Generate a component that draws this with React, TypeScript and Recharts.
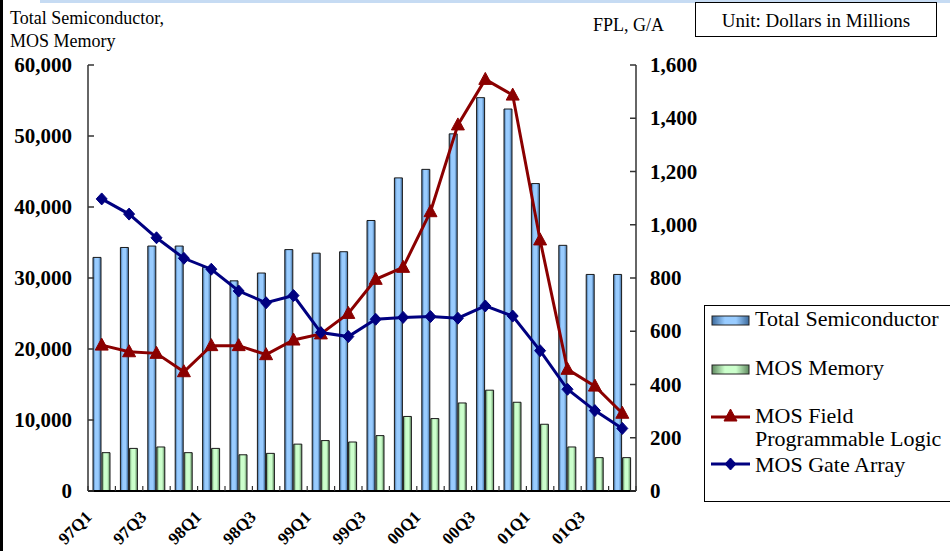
import React from 'react';
import { ComposedChart, Bar, Line, XAxis, YAxis, Legend } from 'recharts';

const quarters = ['97Q1','97Q2','97Q3','97Q4','98Q1','98Q2','98Q3','98Q4','99Q1','99Q2','99Q3','99Q4','00Q1','00Q2','00Q3','00Q4','01Q1','01Q2','01Q3','01Q4'];
const totalSemiconductor = [32900,34300,34500,34500,31500,29600,30700,34000,33500,33700,38100,44100,45300,50300,55400,53800,43300,34600,30500,30500];
const mosMemory = [5400,6000,6200,5400,6000,5100,5300,6600,7100,6900,7800,10500,10200,12400,14200,12500,9400,6200,4700,4700];
const mosFPL = [548,523,517,448,546,546,512,567,590,667,795,840,1049,1375,1546,1487,943,457,394,292];
const mosGateArray = [1097,1040,951,874,833,751,707,734,595,580,645,652,655,649,695,657,527,382,302,235];
const leftTicks = [0,10000,20000,30000,40000,50000,60000];
const rightTicks = [0,200,400,600,800,1000,1200,1400,1600];

const data = quarters.map((q, i) => ({
  q,
  total: totalSemiconductor[i],
  memory: mosMemory[i],
  fpl: mosFPL[i],
  ga: mosGateArray[i],
}));

const SERIF = "'Liberation Serif', 'Times New Roman', serif";
const BW = 27.4;

const fmt = (v: number) => v.toLocaleString('en-US');

const LeftTick = (props: any) => {
  const { x, y, payload } = props;
  return (
    <g>
      <line x1={x} x2={x + 6} y1={y} y2={y} stroke="#333" strokeWidth={1.5} />
      <text x={x - 16} y={y + 7} textAnchor="end" fontFamily={SERIF} fontWeight="bold" fontSize={21} fill="#000">
        {fmt(payload.value)}
      </text>
    </g>
  );
};

const RightTick = (props: any) => {
  const { x, y, payload } = props;
  return (
    <g>
      <line x1={x} x2={x - 6} y1={y} y2={y} stroke="#333" strokeWidth={1.5} />
      <text x={x + 14} y={y + 7} textAnchor="start" fontFamily={SERIF} fontWeight="bold" fontSize={21} fill="#000">
        {fmt(payload.value)}
      </text>
    </g>
  );
};

const XTick = (props: any) => {
  const { x, y, payload } = props;
  const idx = typeof props.index === 'number' ? props.index : quarters.indexOf(payload.value);
  const tx = x - 9;
  const ty = y + 27;
  return (
    <g>
      <line x1={x - BW / 2} x2={x - BW / 2} y1={y} y2={y - 5} stroke="#333" strokeWidth={1.2} />
      {idx === quarters.length - 1 && (
        <line x1={x + BW / 2} x2={x + BW / 2} y1={y} y2={y - 5} stroke="#333" strokeWidth={1.2} />
      )}
      {idx % 2 === 0 && (
        <text x={tx} y={ty} transform={`rotate(-45, ${tx}, ${ty})`} textAnchor="end" fontFamily={SERIF} fontWeight="bold" fontSize={17} fill="#000">
          {payload.value}
        </text>
      )}
    </g>
  );
};

const Triangle = (props: any) => {
  const { cx, cy } = props;
  if (cx == null || cy == null) return null;
  return <path d={`M${cx},${cy - 7} L${cx + 6.5},${cy + 5} L${cx - 6.5},${cy + 5} Z`} fill="#8B0000" stroke="#8B0000" />;
};

const Diamond = (props: any) => {
  const { cx, cy } = props;
  if (cx == null || cy == null) return null;
  return <path d={`M${cx},${cy - 6} L${cx + 5.5},${cy} L${cx},${cy + 6} L${cx - 5.5},${cy} Z`} fill="#000080" stroke="#000080" />;
};

const renderLegend = () => (
  <svg width={250} height={197} style={{ display: 'block' }}>
    <defs>
      <linearGradient id="lgBlue" x1="0" y1="0" x2="1" y2="0">
        <stop offset="0%" stopColor="#3c6a9c" />
        <stop offset="35%" stopColor="#99ccff" />
        <stop offset="65%" stopColor="#99ccff" />
        <stop offset="100%" stopColor="#3c6a9c" />
      </linearGradient>
      <linearGradient id="lgGreen" x1="0" y1="0" x2="1" y2="0">
        <stop offset="0%" stopColor="#5f8a5f" />
        <stop offset="35%" stopColor="#ccffcc" />
        <stop offset="65%" stopColor="#ccffcc" />
        <stop offset="100%" stopColor="#5f8a5f" />
      </linearGradient>
    </defs>
    <rect x={0.5} y={0.5} width={260} height={196} fill="#fff" stroke="#000" strokeWidth={1} />
    <rect x={8} y={11} width={37} height={9} fill="url(#lgBlue)" stroke="#222" strokeWidth={1} />
    <text x={51} y={21} fontFamily={SERIF} fontSize={22} fill="#000">Total Semiconductor</text>
    <rect x={8} y={60} width={37} height={9} fill="url(#lgGreen)" stroke="#222" strokeWidth={1} />
    <text x={51} y={70} fontFamily={SERIF} fontSize={22} fill="#000">MOS Memory</text>
    <line x1={7} x2={46} y1={112} y2={112} stroke="#8B0000" strokeWidth={3} />
    <Triangle cx={26.5} cy={111} />
    <text x={51} y={118} fontFamily={SERIF} fontSize={22} fill="#000">MOS Field</text>
    <text x={51} y={141} fontFamily={SERIF} fontSize={22} fill="#000">Programmable Logic</text>
    <line x1={7} x2={46} y1={159} y2={159} stroke="#000080" strokeWidth={3} />
    <Diamond cx={26.5} cy={159} />
    <text x={51} y={167} fontFamily={SERIF} fontSize={22} fill="#000">MOS Gate Array</text>
  </svg>
);

export default function App() {
  return (
    <div style={{ position: 'fixed', left: 0, top: 0, width: 950, height: 551, background: '#fff', overflow: 'hidden' }}>
      <ComposedChart
        width={950}
        height={551}
        data={data}
        margin={{ top: 65, right: 254, bottom: 0, left: 0 }}
        barGap={1}
        barSize={8}
      >
        <defs>
          <linearGradient id="gBlue" x1="0" y1="0" x2="1" y2="0">
            <stop offset="0%" stopColor="#3c6a9c" />
            <stop offset="30%" stopColor="#99ccff" />
            <stop offset="65%" stopColor="#99ccff" />
            <stop offset="100%" stopColor="#3c6a9c" />
          </linearGradient>
          <linearGradient id="gGreen" x1="0" y1="0" x2="1" y2="0">
            <stop offset="0%" stopColor="#5f8a5f" />
            <stop offset="30%" stopColor="#ccffcc" />
            <stop offset="65%" stopColor="#ccffcc" />
            <stop offset="100%" stopColor="#5f8a5f" />
          </linearGradient>
        </defs>
        <XAxis
          dataKey="q"
          height={60}
          interval={0}
          tickSize={0}
          tickMargin={0}
          tickLine={false}
          axisLine={{ stroke: '#000', strokeWidth: 2 }}
          tick={<XTick />}
        />
        <YAxis
          yAxisId="left"
          orientation="left"
          width={88}
          domain={[0, 60000]}
          ticks={leftTicks}
          interval={0}
          tickSize={0}
          tickMargin={0}
          tickLine={false}
          axisLine={{ stroke: '#333', strokeWidth: 1.5 }}
          tick={<LeftTick />}
        />
        <YAxis
          yAxisId="right"
          orientation="right"
          width={60}
          domain={[0, 1600]}
          ticks={rightTicks}
          interval={0}
          tickSize={0}
          tickMargin={0}
          tickLine={false}
          axisLine={{ stroke: '#333', strokeWidth: 1.5 }}
          tick={<RightTick />}
        />
        <Bar yAxisId="left" dataKey="total" name="Total Semiconductor" fill="url(#gBlue)" stroke="#1a1a1a" strokeWidth={1} isAnimationActive={false} />
        <Bar yAxisId="left" dataKey="memory" name="MOS Memory" fill="url(#gGreen)" stroke="#1a1a1a" strokeWidth={1} isAnimationActive={false} />
        <Line yAxisId="right" dataKey="fpl" name="MOS Field Programmable Logic" stroke="#8B0000" strokeWidth={3} dot={<Triangle />} activeDot={false} isAnimationActive={false} />
        <Line yAxisId="right" dataKey="ga" name="MOS Gate Array" stroke="#000080" strokeWidth={3} dot={<Diamond />} activeDot={false} isAnimationActive={false} />
        <Legend
          layout="horizontal"
          verticalAlign="middle"
          align="center"
          content={renderLegend}
          wrapperStyle={{ position: 'absolute', left: 704, top: 305, width: 250, height: 197, margin: 0 }}
        />
      </ComposedChart>
      <svg width={950} height={551} style={{ position: 'absolute', left: 0, top: 0, pointerEvents: 'none' }}>
        <rect x={40} y={0} width={910} height={3} fill="#c6dbf3" />
        <rect x={0} y={0} width={3} height={551} fill="#000" />
        <text x={10} y={24} fontFamily={SERIF} fontSize={18} fill="#000">Total Semiconductor,</text>
        <text x={10} y={47} fontFamily={SERIF} fontSize={18} fill="#000">MOS Memory</text>
        <text x={593} y={31} fontFamily={SERIF} fontSize={18} fill="#000">FPL, G/A</text>
        <rect x={695.5} y={2.5} width={241} height={34} fill="#fff" stroke="#000" strokeWidth={1} />
        <text x={816} y={27} textAnchor="middle" fontFamily={SERIF} fontSize={19} fill="#000">Unit: Dollars in Millions</text>
      </svg>
    </div>
  );
}
